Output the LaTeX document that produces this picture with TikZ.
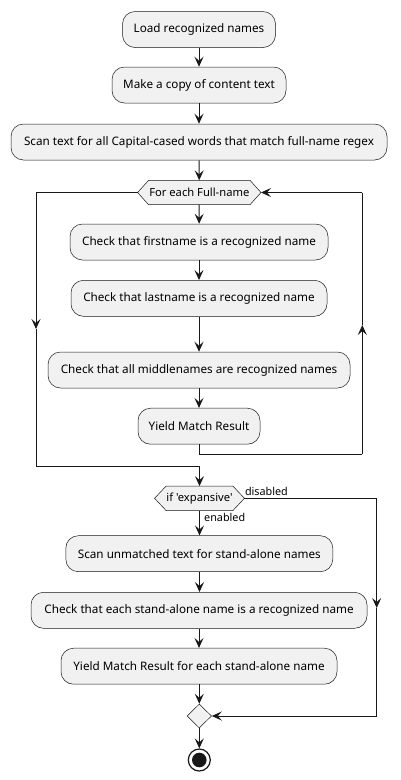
\documentclass[tikz,border=0pt]{standalone}
\usepackage{fontspec}
\setmainfont{Noto Sans}
\newfontfamily\rawfont{Noto Sans}
\usetikzlibrary{arrows.meta,shapes.geometric}
\definecolor{boxfill}{HTML}{F1F1F1}
\definecolor{lineclr}{HTML}{181818}
\tikzset{
  actbox/.style={rectangle, rounded corners=12.5pt, fill=boxfill, draw=lineclr, line width=0.5pt,
    minimum height=36pt, inner sep=0pt, font=\fontsize{11.7pt}{14pt}\selectfont},
  hexnode/.style={rectangle, minimum height=24pt, inner sep=0pt, font=\fontsize{11.2pt}{13pt}\selectfont},
  hexshape/.style={fill=boxfill, draw=lineclr, line width=0.5pt},
  flow/.style={draw=lineclr, line width=1pt, -{Stealth[length=10pt,width=9pt,inset=4pt]}},
  plainflow/.style={draw=lineclr, line width=1pt},
  lbl/.style={font=\fontsize{10.8pt}{13pt}\selectfont, inner sep=0pt}
}
\begin{document}
\begin{tikzpicture}[x=1pt,y=-1pt]
\useasboundingbox (0,0) rectangle (401,780);

\node[actbox, minimum width=153pt] (b1) at (199,29.5) {Load recognized names};
\node[actbox, minimum width=174pt] (b2) at (199,85) {Make a copy of content text};
\node[actbox, minimum width=376pt] (b3) at (199,142) {Scan text for all Capital-cased words that match full-name regex};

\node[hexnode, minimum width=123pt] (fe) at (199.3,192.5) {};
\draw[hexshape] (fe.west) -- ([xshift=11pt]fe.north west) -- ([xshift=-11pt]fe.north east) -- (fe.east)
  -- ([xshift=-11pt]fe.south east) -- ([xshift=11pt]fe.south west) -- cycle;
\node[hexnode] (fet) at (fe.center) {For each Full-name};

\node[actbox, minimum width=258pt] (b4) at (199,242) {Check that firstname is a recognized name};
\node[actbox, minimum width=256pt] (b5) at (199,298.3) {Check that lastname is a recognized name};
\node[actbox, minimum width=302pt] (b6) at (199,370) {Check that all middlenames are recognized names};
\node[actbox, minimum width=122pt] (b7) at (199,426.2) {Yield Match Result};

\node[hexnode, minimum width=89.5pt] (ifh) at (199.5,498.3) {};
\draw[hexshape] (ifh.west) -- ([xshift=11.5pt]ifh.north west) -- ([xshift=-11.5pt]ifh.north east) -- (ifh.east)
  -- ([xshift=-11.5pt]ifh.south east) -- ([xshift=11.5pt]ifh.south west) -- cycle;
\node[hexnode] (ift) at (ifh.center) {\rawfont if 'expansive'};

\node[actbox, minimum width=267pt] (b8) at (199.3,553.7) {Scan unmatched text for stand-alone names};
\node[actbox, minimum width=336pt] (b9) at (199,610.3) {Check that each stand-alone name is a recognized name};
\node[actbox, minimum width=276pt] (b10) at (199,666.2) {Yield Match Result for each stand-alone name};

\node[diamond, fill=boxfill, draw=lineclr, line width=0.5pt, minimum width=24.5pt, minimum height=24pt, inner sep=0pt] (md) at (199.3,716) {};

\node[circle, draw=lineclr, line width=1.2pt, fill=white, minimum size=22pt, inner sep=0pt] (endc) at (199.3,760) {};
\fill[lineclr] (endc.center) circle (7.3pt);

% main flow
\draw[flow] (b1) -- (b2);
\draw[flow] (b2) -- (b3);
\draw[flow] (b3) -- (fe);
\draw[flow] (fe) -- (b4);
\draw[flow] (b4) -- (b5);
\draw[flow] (b5) -- (b6);
\draw[flow] (b6) -- (b7);

% loop back (right)
\coordinate (r1) at (362.3,454);
\coordinate (rm) at (362.3,325);
\coordinate (r2) at (362.3,192.5);
\draw[plainflow] (b7.south) |- (r1);
\draw[flow] (r1) -- (rm);
\draw[plainflow] (rm) -- (r2);
\draw[flow] (r2) -- (fe.east);

% loop exit (left)
\coordinate (l1) at (36,192.5);
\coordinate (lm) at (36,329);
\coordinate (l2) at (36,466);
\coordinate (l3) at (199.5,466);
\draw[plainflow] (fe.west) -- (l1);
\draw[flow] (l1) -- (lm);
\draw[plainflow] (lm) -- (l2) -- (l3);
\draw[flow] (l3) -- (ifh.north);

% if branches
\draw[flow] (ifh.south) -- (ifh.south |- b8.north);
\node[lbl, anchor=base west] at (204,521.3) {enabled};
\coordinate (d1) at (376.7,498.3);
\coordinate (dm) at (376.7,608);
\coordinate (d2) at (376.7,716);
\draw[plainflow] (ifh.east) -- (d1);
\draw[flow] (d1) -- (dm);
\draw[plainflow] (dm) -- (d2);
\draw[flow] (d2) -- (md.east);
\node[lbl, anchor=base west] at (244.8,495.3) {disabled};

\draw[flow] (b8.south -| ifh.south) -- (b9.north -| ifh.south);
\draw[flow] (b9) -- (b10);
\draw[flow] (b10.south -| md.north) -- (md.north);
\draw[flow] (md) -- (endc);
\end{tikzpicture}
\end{document}
